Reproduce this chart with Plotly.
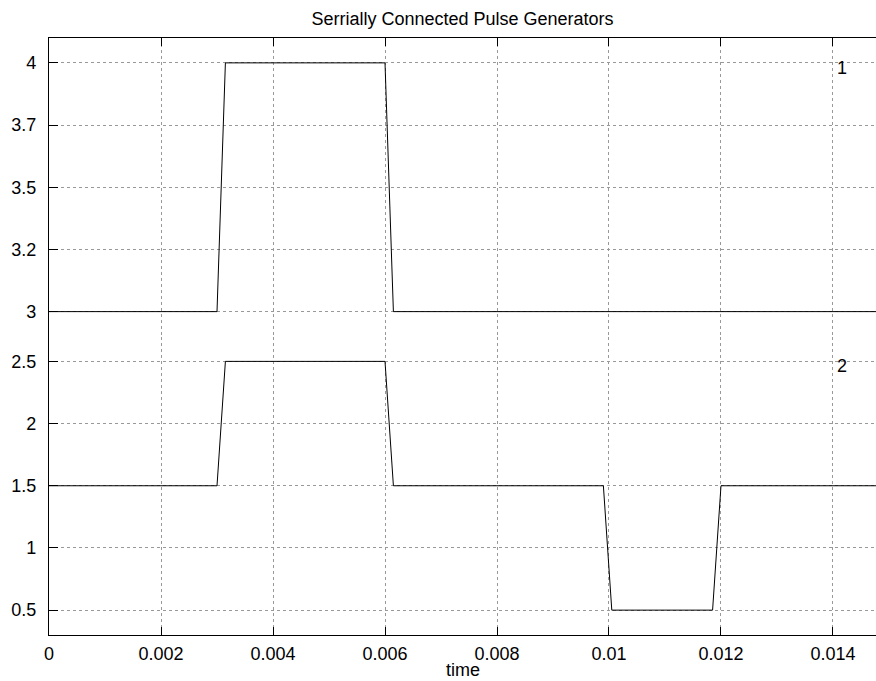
import plotly.graph_objects as go
from plotly.subplots import make_subplots

# Data
time = [0, 0.003, 0.00315, 0.006, 0.00615, 0.0099, 0.01005, 0.01185, 0.012, 0.0150]
out1 = [3, 3, 4, 4, 3, 3, 3, 3, 3, 3]
out2 = [1.5, 1.5, 2.5, 2.5, 1.5, 1.5, 0.5, 0.5, 1.5, 1.5]

top_tickvals = [3, 3.25, 3.5, 3.75, 4]
top_ticktext = ["3", "3.2", "3.5", "3.7", "4"]
bot_tickvals = [0.5, 1, 1.5, 2, 2.5]
bot_ticktext = ["0.5", "1", "1.5", "2", "2.5"]
x_tickvals = [0, 0.002, 0.004, 0.006, 0.008, 0.01, 0.012, 0.014]
x_ticktext = ["0", "0.002", "0.004", "0.006", "0.008", "0.01", "0.012", "0.014"]
labels = ["1", "2"]

FONT = "Liberation Sans, Arial, sans-serif"
FS = 18
GRID = "#999999"

fig = make_subplots(rows=2, cols=1, shared_xaxes=True, vertical_spacing=0)
fig.add_trace(go.Scatter(x=time, y=out1, mode="lines",
                         line=dict(color="black", width=1), showlegend=False), row=1, col=1)
fig.add_trace(go.Scatter(x=time, y=out2, mode="lines",
                         line=dict(color="black", width=1), showlegend=False), row=2, col=1)

xcommon = dict(range=[0, 0.014768], tickvals=x_tickvals, ticktext=x_ticktext,
               showgrid=True, gridcolor=GRID, griddash="dot", gridwidth=1,
               showline=True, linecolor="black", linewidth=1.2,
               ticks="inside", ticklen=8, tickcolor="black", tickwidth=1.2,
               zeroline=False, tickfont=dict(family=FONT, size=FS, color="black"))
fig.update_xaxes(**xcommon)
fig.update_xaxes(side="top", showticklabels=False, row=1, col=1)
fig.update_xaxes(side="bottom", showticklabels=True, row=2, col=1, ticklabelstandoff=2)

ycommon = dict(showgrid=True, gridcolor=GRID, griddash="dot", gridwidth=1,
               showline=True, linecolor="black", linewidth=1.2,
               ticks="inside", ticklen=9, tickcolor="black", tickwidth=1.2,
               zeroline=False, ticklabelstandoff=8,
               tickfont=dict(family=FONT, size=FS, color="black"))
fig.update_yaxes(**ycommon)
fig.update_yaxes(range=[2.9, 4.1], tickvals=top_tickvals, ticktext=top_ticktext, row=1, col=1)
fig.update_yaxes(range=[0.3, 2.7], tickvals=bot_tickvals, ticktext=bot_ticktext, row=2, col=1)

fig.add_annotation(x=0.01416, y=3.979, text=labels[0], showarrow=False, xref="x", yref="y",
                   font=dict(family=FONT, size=FS, color="black"))
fig.add_annotation(x=0.01416, y=2.461, text=labels[1], showarrow=False, xref="x2", yref="y2",
                   font=dict(family=FONT, size=FS, color="black"))
# x-axis title (plot area spans y=38..635 px)
fig.add_annotation(x=0.5, y=-(670 - 635) / 597, xref="paper", yref="paper", text="time",
                   showarrow=False, yanchor="middle",
                   font=dict(family=FONT, size=FS, color="black"))

fig.update_layout(
    width=876, height=681,
    margin=dict(l=49, r=0, t=38, b=46),
    plot_bgcolor="white", paper_bgcolor="white",
    title=dict(text="Serrially Connected Pulse Generators", x=0.5, xref="paper",
               y=1 - 19 / 681, yref="container", yanchor="middle", xanchor="center",
               font=dict(family=FONT, size=FS, color="black")),
)

fig.write_html("out.html", config={"displayModeBar": False},
               post_script="document.body.style.margin='0';")
